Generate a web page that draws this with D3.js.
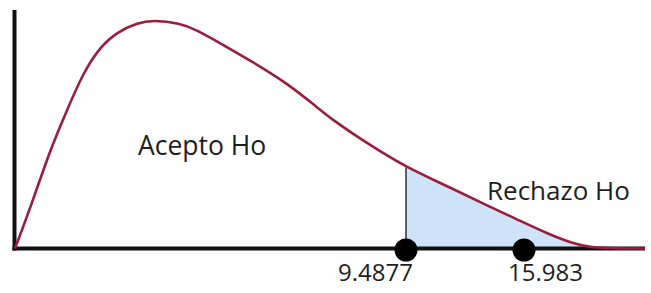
<!DOCTYPE html>
<html>
<head>
<meta charset="utf-8">
<script src="https://cdn.jsdelivr.net/npm/d3@7"></script>
<style>
  body { margin: 0; background: #fff; }
  svg text { font-family: "Open Sans", sans-serif; fill: #1e1e1e; }
</style>
</head>
<body>
<svg id="chart" width="651" height="293"></svg>
<script>
// chi-square curve (schematic)
const curveX = [0, 0.437, 0.849, 1.262, 1.650, 2.063, 2.475, 2.960, 3.349, 4.004, 4.416, 4.974,
                5.775, 6.600, 7.328, 7.716, 8.541, 9.4877, 11.910, 14.277, 15.378, 17.240,
                18.661, 19.590, 21.23, 22.6];
const curveY = [0, 0.0403, 0.0824, 0.116, 0.147, 0.169, 0.1815, 0.189, 0.1916, 0.189, 0.1832, 0.1723,
                0.1563, 0.1387, 0.1185, 0.1076, 0.0882, 0.0681, 0.0513, 0.0336, 0.0261, 0.0126,
                0.0042, 0.0008, 0, 0];

const critical = 9.4877;   // valor crítico
const statistic = 15.983;  // estadístico de prueba
const regionLabels = ["Acepto Ho", "Rechazo Ho"];

const svg = d3.select("#chart");

// picture is not to scale, so x is piecewise between the two marked values
const x = d3.scaleLinear()
    .domain([0, critical, statistic, 22.6])
    .range([15, 406, 524, 645]);
const y = d3.scaleLinear()
    .domain([0, 0.2])
    .range([248.5, 10]);

const pts = curveX.map((d, i) => ({x: d, y: curveY[i]}));

const line = d3.line()
    .x(d => x(d.x))
    .y(d => y(d.y))
    .curve(d3.curveBasis);

const area = d3.area()
    .x(d => x(d.x))
    .y0(y(0))
    .y1(d => y(d.y))
    .curve(d3.curveBasis);

// rejection region fill, clipped from the critical value on
svg.append("clipPath").attr("id", "reject")
  .append("rect")
    .attr("x", x(critical))
    .attr("y", 0)
    .attr("width", 651 - x(critical))
    .attr("height", y(0));

svg.append("path")
    .datum(pts)
    .attr("clip-path", "url(#reject)")
    .attr("fill", "#cfe3f8")
    .attr("d", area);

// vertical line at the critical value
const yCrit = curveY[curveX.indexOf(critical)];
svg.append("line")
    .attr("x1", x(critical)).attr("x2", x(critical))
    .attr("y1", y(yCrit)).attr("y2", y(0))
    .attr("stroke", "#5a6068")
    .attr("stroke-width", 2);

// axes
svg.append("line")
    .attr("x1", 14.5).attr("x2", 14.5)
    .attr("y1", y(0.2)).attr("y2", y(0) + 2)
    .attr("stroke", "#111").attr("stroke-width", 4);
svg.append("line")
    .attr("x1", 12.5).attr("x2", x(22.6))
    .attr("y1", y(0)).attr("y2", y(0))
    .attr("stroke", "#111").attr("stroke-width", 4);

// curve
svg.append("path")
    .datum(pts)
    .attr("fill", "none")
    .attr("stroke", "#9a1d3c")
    .attr("stroke-width", 2.6)
    .attr("d", line);

// dots on the axis
const marks = [critical, statistic];
const labelShift = [-30.5, 21.5];
svg.selectAll("circle.mark")
    .data(marks)
    .join("circle")
    .attr("class", "mark")
    .attr("cx", d => x(d))
    .attr("cy", y(0) + 1.5)
    .attr("r", 11.5)
    .attr("fill", "#000");

svg.selectAll("text.val")
    .data(marks)
    .join("text")
    .attr("class", "val")
    .attr("x", (d, i) => x(d) + labelShift[i])
    .attr("y", 281)
    .attr("text-anchor", "middle")
    .style("font-size", "24px")
    .text(d => d);

// region labels
svg.append("text")
    .attr("x", 138).attr("y", 155)
    .style("font-size", "26.5px")
    .text(regionLabels[0]);
svg.append("text")
    .attr("x", 487).attr("y", 200)
    .style("font-size", "26px")
    .text(regionLabels[1]);
</script>
</body>
</html>
